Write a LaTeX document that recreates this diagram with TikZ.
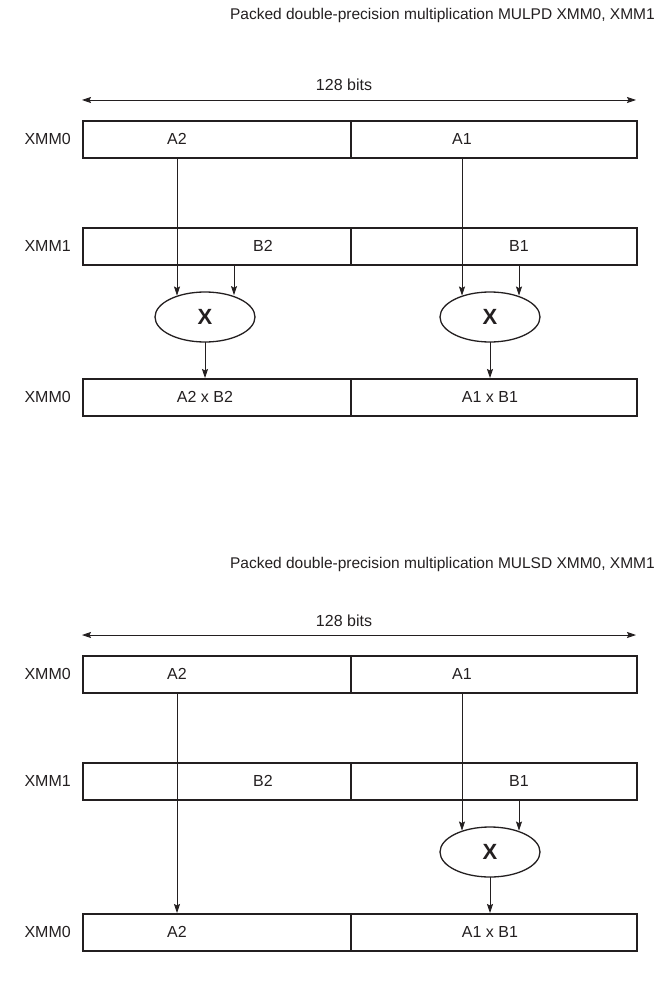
\documentclass[tikz,border=0pt]{standalone}
\usepackage{fontspec}
\setmainfont{Liberation Sans}
\usetikzlibrary{arrows.meta,shapes.geometric}
\definecolor{ink}{RGB}{35,31,32}
\begin{document}
\begin{tikzpicture}[x=1pt,y=1pt,
  cell/.style={draw=ink,line width=1.7pt,minimum height=37pt,inner sep=0pt,anchor=north west},
  lbl/.style={text=ink,font=\fontsize{16}{19}\selectfont,inner sep=0pt},
  ttl/.style={text=ink,font=\fontsize{15.5}{18}\selectfont,inner sep=0pt,anchor=east},
  mul/.style={draw=ink,line width=1.3pt,ellipse,minimum width=100pt,minimum height=50pt,inner sep=0pt,outer sep=0pt,font=\bfseries\fontsize{22}{25}\selectfont,text=ink},
  tip/.tip={Stealth[length=9pt,width=6pt,inset=1.5pt]},
  arr/.style={draw=ink,line width=0.8pt,-tip},
  dbl/.style={draw=ink,line width=0.8pt,tip-tip}
]
\useasboundingbox (0,0) rectangle (661,-981);

% ---------------- diagram 1 ----------------
\node[ttl] (t1) at (655,-15) {Packed double-precision multiplication MULPD XMM0, XMM1};
\node[lbl] (w1) at (344,-85) {128 bits};
\coordinate (w1l) at (82,-100);
\coordinate (w1r) at (636,-100);
\draw[dbl] (w1l) -- (w1r);

\node[cell,minimum width=268pt] (d1x0L) at (82,-120) {};
\node[cell,minimum width=286pt] (d1x0R) at (350,-120) {};
\node[cell,minimum width=268pt] (d1x1L) at (82,-227) {};
\node[cell,minimum width=286pt] (d1x1R) at (350,-227) {};
\node[cell,minimum width=268pt] (d1rL) at (82,-378) {};
\node[cell,minimum width=286pt] (d1rR) at (350,-378) {};

\node[lbl,anchor=east] (d1n0) at (71,-138.5) {XMM0};
\node[lbl,anchor=east] (d1n1) at (71,-245.5) {XMM1};
\node[lbl,anchor=east] (d1n2) at (71,-396.5) {XMM0};

\node[lbl] (d1a2) at (177,-138.5) {A2};
\node[lbl] (d1a1) at (462,-138.5) {A1};
\node[lbl] (d1b2) at (263,-245.5) {B2};
\node[lbl] (d1b1) at (519,-245.5) {B1};
\coordinate (d1cb2) at (234,-264);

\node[mul] (d1m2) at (205,-317) {X};
\node[mul] (d1m1) at (490,-317) {X};

\node[lbl] (d1r2) at (205,-396.5) {A2 x B2};
\node[lbl] (d1r1) at (490,-396.5) {A1 x B1};

\draw[arr] (d1a2 |- d1x0L.south) -- (d1a2 |- d1m2.140);
\draw[arr] (d1cb2 |- d1x1L.south) -- (d1cb2 |- d1m2.42);
\draw[arr] (d1a1 |- d1x0R.south) -- (d1a1 |- d1m1.140);
\draw[arr] (d1b1 |- d1x1R.south) -- (d1b1 |- d1m1.40);
\draw[arr] (d1m2.south) -- (d1m2.south |- d1rL.north);
\draw[arr] (d1m1.south) -- (d1m1.south |- d1rR.north);

% ---------------- diagram 2 ----------------
\begin{scope}[yshift=-535pt]
\node[ttl] (t2) at (655,-29) {Packed double-precision multiplication MULSD XMM0, XMM1};
\node[lbl] (w2) at (344,-86) {128 bits};
\coordinate (w2l) at (82,-100);
\coordinate (w2r) at (636,-100);
\draw[dbl] (w2l) -- (w2r);

\node[cell,minimum width=268pt] (d2x0L) at (82,-120) {};
\node[cell,minimum width=286pt] (d2x0R) at (350,-120) {};
\node[cell,minimum width=268pt] (d2x1L) at (82,-227) {};
\node[cell,minimum width=286pt] (d2x1R) at (350,-227) {};
\node[cell,minimum width=268pt] (d2rL) at (82,-378) {};
\node[cell,minimum width=286pt] (d2rR) at (350,-378) {};

\node[lbl,anchor=east] (d2n0) at (71,-138.5) {XMM0};
\node[lbl,anchor=east] (d2n1) at (71,-245.5) {XMM1};
\node[lbl,anchor=east] (d2n2) at (71,-396.5) {XMM0};

\node[lbl] (d2a2) at (177,-138.5) {A2};
\node[lbl] (d2a1) at (462,-138.5) {A1};
\node[lbl] (d2b2) at (263,-245.5) {B2};
\node[lbl] (d2b1) at (519,-245.5) {B1};

\node[mul] (d2m1) at (490,-317) {X};

\node[lbl] (d2r2) at (177,-396.5) {A2};
\node[lbl] (d2r1) at (490,-396.5) {A1 x B1};

\draw[arr] (d2a2 |- d2x0L.south) -- (d2a2 |- d2rL.north);
\draw[arr] (d2a1 |- d2x0R.south) -- (d2a1 |- d2m1.140);
\draw[arr] (d2b1 |- d2x1R.south) -- (d2b1 |- d2m1.40);
\draw[arr] (d2m1.south) -- (d2m1.south |- d2rR.north);
\end{scope}
\end{tikzpicture}
\end{document}
